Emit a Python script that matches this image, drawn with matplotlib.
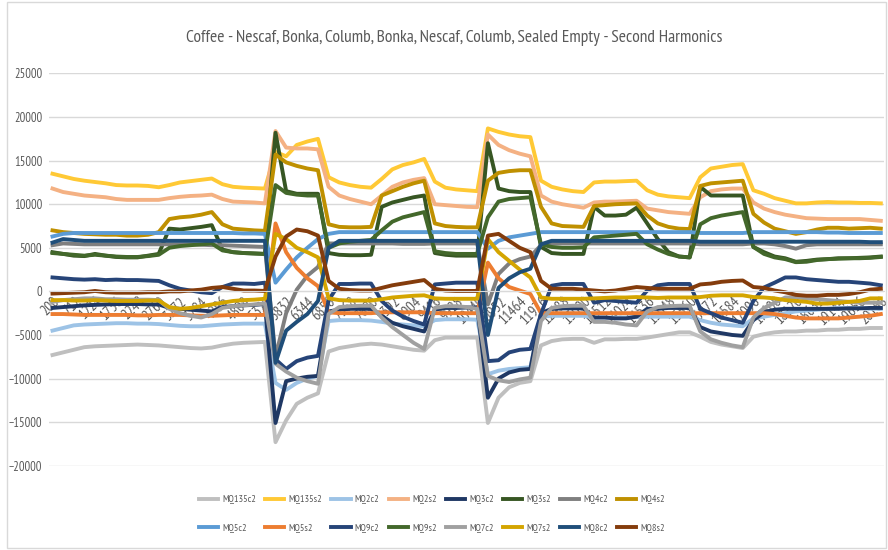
import matplotlib
matplotlib.use("Agg")
import matplotlib.pyplot as plt
from matplotlib.patches import Rectangle

plt.rcParams['font.family'] = ['PT Sans Narrow', 'DejaVu Sans']

categorias = [200, 456, 712, 968, 1224, 1480, 1736, 1992, 2248, 2504, 2760, 3016, 3272, 3528,
              3784, 4040, 4296, 4552, 4808, 5064, 5320, 5576, 5832, 6088, 6344, 6600, 6856,
              7112, 7368, 7624, 7880, 8136, 8392, 8648, 8904, 9160, 9416, 9672, 9928, 10184,
              10440, 10696, 10952, 11208, 11464, 11720, 11976, 12232, 12488, 12744, 13000,
              13256, 13512, 13768, 14024, 14280, 14536, 14792, 15048, 15304, 15560, 15816,
              16072, 16328, 16584, 16840, 17096, 17352, 17608, 17864, 18120, 18376, 18632,
              18888, 19144, 19400, 19656, 19912, 20168]

MQ135c2 = [-7300, -7000, -6700, -6400, -6300, -6250, -6200, -6150, -6100, -6150, -6200,
           -6300, -6400, -6500, -6550, -6450,
           -6200, -6000, -5900, -5850, -5800,
           -17300, -14800, -12900, -12200, -11700,
           -6900, -6500, -6300, -6100, -6000,
           -6100, -6300, -6500, -6700, -6800,
           -5600, -5300, -5300, -5300, -5300,
           -15100, -12200, -11000, -10500, -10300,
           -6200, -5700, -5500, -5450, -5450,
           -5900, -5500, -5500, -5450, -5450,
           -5300, -5100, -4900, -4700, -4700,
           -5200, -5800, -6100, -6300, -6500,
           -5200, -4900, -4700, -4600, -4600, -4500, -4500, -4400, -4400, -4300, -4300, -4200, -4200]
MQ135s2 = [13500, 13200, 12900, 12700, 12550, 12400, 12200, 12150, 12150, 12100, 11950,
           12200, 12500, 12650, 12800, 12950,
           12300, 12000, 11900, 11850, 11800,
           16000, 15500, 16800, 17200, 17500,
           13100, 12500, 12200, 12000, 11900,
           12900, 14000, 14500, 14800, 15200,
           12600, 11900, 11700, 11600, 11500,
           18700, 18300, 18000, 17800, 17700,
           12700, 12000, 11700, 11500, 11400,
           12500, 12600, 12600, 12650, 12700,
           11600, 11100, 10900, 10800, 10700,
           13100, 14100, 14300, 14500, 14600,
           11600, 11200, 10700, 10400, 10100, 10100, 10200, 10250, 10200, 10200, 10150, 10150, 10100]
MQ2c2 = [-4500, -4200, -3900, -3800, -3750, -3700, -3650, -3650, -3700, -3700, -3750,
         -3850, -3950, -4000, -4000, -3900,
         -3800, -3750, -3700, -3700, -3700,
         -10500, -11300, -10500, -10000, -9700,
         -3400, -3300, -3300, -3300, -3350,
         -3500, -3700, -3800, -3900, -4000,
         -3300, -3200, -3200, -3200, -3250,
         -9500, -9100, -8900, -8800, -8700,
         -2900, -2800, -2800, -2800, -2800,
         -3000, -3000, -3000, -3000, -2950,
         -2900, -2900, -2900, -2900, -2900,
         -3300, -3600, -3800, -3900, -4000,
         -3100, -2900, -2700, -2500, -2300, -2200, -2100, -2000, -1900, -1900, -1900, -2000, -2000]
MQ2s2 = [11800, 11400, 11200, 11000, 10900, 10800, 10600, 10500, 10500, 10500, 10500,
         10700, 10850, 10950, 11000, 11100,
         10600, 10300, 10250, 10200, 10100,
         18400, 16500, 16400, 16400, 16300,
         12000, 11000, 10600, 10300, 10000,
         11000, 12000, 12500, 12800, 13000,
         10000, 9900, 9800, 9700, 9660,
         18000, 16800, 16200, 15800, 15500,
         11000, 10300, 10000, 9800, 9600,
         10200, 10300, 10300, 10350, 10400,
         9500, 9300, 9100, 9000, 8900,
         10800, 11500, 11700, 11800, 11800,
         10200, 9500, 9100, 8800, 8600, 8400, 8350, 8300, 8300, 8300, 8300, 8200, 8100]
MQ3c2 = [-1900, -1800, -1700, -1600, -1550, -1500, -1450, -1450, -1450, -1500, -1500,
         -1900, -2000, -2100, -2200, -2300,
         -1800, -1700, -1600, -1550, -1450,
         -15100, -10300, -10000, -9800, -9700,
         -2300, -2100, -2000, -2000, -2000,
         -2800, -3600, -4000, -4300, -4600,
         -2100, -1900, -1900, -1850, -1850,
         -12200, -10000, -9300, -9000, -8900,
         -2500, -2000, -1950, -1950, -1950,
         -3000, -3000, -3100, -3100, -2900,
         -2000, -2000, -1900, -1900, -1900,
         -4100, -4600, -4800, -5000, -5100,
         -3300, -2400, -2100, -2000, -2000, -2000, -2000, -2000, -2000, -1950, -1950, -1900, -1900]
MQ3s2 = [4500, 4300, 4100, 4050, 4300, 4100, 3950, 3900, 3900, 4100, 4300,
         7200, 7100, 7250, 7400, 7600,
         4800, 4500, 4400, 4350, 4300,
         18200, 11500, 11200, 11200, 11200,
         4400, 4200, 4150, 4150, 4200,
         9700, 10200, 10500, 10800, 11000,
         4400, 4200, 4100, 4100, 4100,
         17000, 11800, 11500, 11400, 11400,
         5100, 4400, 4300, 4300, 4300,
         9700, 8700, 8700, 8800, 9600,
         7800, 6000, 4500, 4000, 3900,
         12000, 11000, 11000, 11000, 11000,
         5100, 4500, 4000, 3800, 3400, 3500, 3650, 3700, 3800, 3800, 3850, 3900, 4000]
MQ4c2 = [5300, 5500, 5450, 5400, 5400, 5400, 5400, 5400, 5400, 5400, 5400,
         5400, 5400, 5400, 5350, 5300,
         5300, 5250, 5200, 5150, 5100,
         -7500, -2500, 200, 1800, 2800,
         5500, 5500, 5500, 5500, 5500,
         5500, 5500, 5450, 5450, 5450,
         5500, 5500, 5500, 5500, 5500,
         -1500, 2000, 3200, 3700, 4000,
         5300, 5500, 5500, 5500, 5500,
         5500, 5500, 5500, 5500, 5500,
         5500, 5500, 5500, 5500, 5500,
         5400, 5400, 5400, 5400, 5400,
         5500, 5500, 5400, 5200, 4900, 5300, 5400, 5400, 5400, 5400, 5400, 5400, 5400]
MQ4s2 = [7000, 6800, 6700, 6600, 6550, 6500, 6500, 6400, 6400, 6500, 6800,
         8300, 8500, 8600, 8800, 9100,
         7700, 7200, 7100, 7000, 6950,
         15700, 14800, 14400, 14100, 13900,
         7700, 7400, 7350, 7350, 7400,
         11000, 11500, 12000, 12400, 12700,
         7800, 7500, 7400, 7350, 7350,
         12700, 13600, 13800, 13900, 13900,
         9700, 7800, 7500, 7450, 7400,
         9800, 9900, 10000, 10050, 10100,
         8700, 7800, 7400, 7200, 7150,
         12100, 12400, 12500, 12600, 12700,
         8900, 7900, 7200, 6900, 6600, 6800, 7100, 7300, 7300, 7200, 7250, 7300, 7200]
MQ5c2 = [6300, 6600, 6700, 6700, 6700, 6700, 6700, 6700, 6700, 6700, 6700,
         6700, 6700, 6700, 6700, 6700,
         6700, 6700, 6650, 6650, 6600,
         1000, 2500, 3900, 5000, 6000,
         6600, 6800, 6800, 6800, 6800,
         6800, 6800, 6800, 6800, 6800,
         6800, 6800, 6800, 6800, 6800,
         4900, 5800, 6200, 6400, 6600,
         6800, 6800, 6800, 6800, 6800,
         6800, 6800, 6800, 6800, 6800,
         6800, 6800, 6800, 6800, 6800,
         6700, 6700, 6700, 6700, 6700,
         6800, 6800, 6800, 6800, 6800, 6800, 6800, 6750, 6750, 6700, 6700, 6700, 6700]
MQ5s2 = [-2600, -2600, -2650, -2700, -2700, -2700, -2700, -2700, -2750, -2750, -2700,
         -2700, -2700, -2750, -2800, -2800,
         -2750, -2700, -2700, -2700, -2700,
         7800, 4500, 2700, 1500, 600,
         -2400, -2500, -2500, -2500, -2500,
         -2400, -2400, -2400, -2400, -2400,
         -2500, -2500, -2500, -2500, -2500,
         3300, 1500, 500, 100, -300,
         -2500, -2500, -2500, -2500, -2500,
         -2500, -2500, -2500, -2500, -2500,
         -2500, -2500, -2500, -2500, -2500,
         -2500, -2500, -2500, -2500, -2500,
         -2500, -2500, -2600, -2800, -3000, -3100, -3100, -3100, -3100, -3000, -2900, -2800, -2600]
MQ9c2 = [1600, 1500, 1400, 1350, 1400, 1300, 1350, 1300, 1300, 1250, 1200,
         700, 300, 100, -100, -200,
         500, 900, 900, 850, 1000,
         -7800, -8900, -8000, -7600, -7400,
         -1000, 850, 850, 900, 900,
         -1100, -2200, -2900, -3400, -3800,
         800, 900, 1000, 1000, 1000,
         -8000, -7900, -7000, -6700, -6600,
         -2600, 650, 850, 850, 850,
         -1300, -1000, -1100, -1200, -1300,
         100, 700, 850, 850, 850,
         -2000, -2500, -3000, -3300, -3600,
         -1100, 450, 1000, 1600, 1600, 1400, 1300, 1200, 1100, 1100, 1000, 900, 700]
MQ9s2 = [4400, 4300, 4200, 4100, 4200, 4100, 4000, 3950, 3950, 4050, 4200,
         5000, 5200, 5300, 5400, 5500,
         4700, 4500, 4400, 4350, 4300,
         12200, 11300, 11100, 11000, 11000,
         5000, 5500, 5700, 5800, 5900,
         7000, 8000, 8500, 8800, 9100,
         4600, 4400, 4300, 4300, 4300,
         8500, 10300, 10600, 10700, 10800,
         5400, 5100, 5000, 5000, 5050,
         6200, 6300, 6400, 6500, 6600,
         5400, 4800, 4300, 4000, 3900,
         7700, 8400, 8700, 8900, 9100,
         5100, 4300, 3900, 3700, 3350, 3400, 3600, 3700, 3750, 3800, 3800, 3850, 3950]
MQ7c2 = [-1200, -1000, -900, -800, -800, -900, -900, -950, -950, -950, -1000,
         -2000, -2500, -2800, -3000, -2600,
         -1900, -1700, -1600, -1500, -1400,
         -8300, -9200, -9900, -10300, -10600,
         -2600, -1800, -1700, -1650, -1650,
         -3000, -4100, -5000, -5900, -6600,
         -1900, -1700, -1700, -1800, -2000,
         -9700, -10200, -10400, -10100, -9900,
         -3400, -1900, -1700, -1650, -1650,
         -3500, -3500, -3600, -3800, -3900,
         -2300, -1800, -1700, -1650, -1650,
         -4600, -5500, -5900, -6200, -6400,
         -3000, -1900, -1300, -700, -700, -800, -900, -1000, -1100, -1200, -1300, -1300, -1300]
MQ7s2 = [-1000, -1000, -1050, -1050, -1000, -1050, -1100, -1100, -1100, -1050, -1050,
         -1800, -2000, -1900, -1700, -1500,
         -1300, -1100, -1000, -950, -850,
         6600, 6000, 5000, 4500, 3900,
         -800, -1000, -1050, -1050, -1050,
         -900, -700, -600, -500, -450,
         -800, -850, -850, -850, -850,
         6000, 4500, 3500, 2500, 1600,
         -700, -850, -850, -850, -850,
         -800, -750, -700, -700, -650,
         -700, -750, -700, -700, -700,
         -650, -500, -450, -450, -450,
         -650, -700, -800, -1000, -1100, -1200, -1400, -1400, -1300, -1200, -1100, -800, -800]
MQ8c2 = [5600, 6000, 5900, 5800, 5800, 5800, 5800, 5800, 5800, 5800, 5800,
         5800, 5800, 5800, 5800, 5800,
         5800, 5800, 5800, 5800, 5800,
         -8200, -4500, -3500, -2600, -1100,
         5000, 5800, 5800, 5800, 5800,
         5800, 5800, 5800, 5800, 5800,
         5800, 5800, 5800, 5800, 5800,
         -5000, 400, 1500, 2200, 2600,
         5400, 5800, 5800, 5800, 5800,
         5800, 5800, 5800, 5800, 5800,
         5800, 5800, 5800, 5800, 5800,
         5700, 5700, 5700, 5700, 5700,
         5700, 5700, 5700, 5700, 5700, 5700, 5700, 5700, 5700, 5700, 5700, 5650, 5650]
MQ8s2 = [-250, -200, -150, -100, 50, -100, -150, -150, -150, -100, -100,
         0, 0, 100, 200, 400,
         500, 300, 100, 100, 50,
         4000, 6300, 7100, 6900, 6400,
         1200, 300, 150, 100, 100,
         400, 700, 900, 1100, 1300,
         300, 100, 50, 50, 50,
         6400, 6600, 5800, 5000, 4500,
         1200, 300, 300, 300, 200,
         100, 0, 100, 300, 500,
         400, 300, 300, 300, 300,
         800, 900, 1100, 1200, 1250,
         500, 400, 100, -100, -400, -500, -500, -400, -400, -300, -100, 200, 300]

series = [('MQ135c2', MQ135c2, '#BFBFBF'), ('MQ135s2', MQ135s2, '#FFC935'),
          ('MQ2c2', MQ2c2, '#9DC3E6'), ('MQ2s2', MQ2s2, '#F4B183'),
          ('MQ3c2', MQ3c2, '#1F3864'), ('MQ3s2', MQ3s2, '#375623'),
          ('MQ4c2', MQ4c2, '#7F7F7F'), ('MQ4s2', MQ4s2, '#BF9000'),
          ('MQ5c2', MQ5c2, '#5B9BD5'), ('MQ5s2', MQ5s2, '#ED7D31'),
          ('MQ9c2', MQ9c2, '#264478'), ('MQ9s2', MQ9s2, '#43682B'),
          ('MQ7c2', MQ7c2, '#A0A0A0'), ('MQ7s2', MQ7s2, '#D4A500'),
          ('MQ8c2', MQ8c2, '#1F4E79'), ('MQ8s2', MQ8s2, '#843C0C')]

gris = '#595959'
fig = plt.figure(figsize=(8.88, 5.5), dpi=100)
ax = fig.add_axes([49/888, 1 - 465.7/550, 835/888, (465.7 - 73.5)/550])

x = list(range(len(categorias)))
lineas = []
for nombre, datos, color in series:
    l, = ax.plot(x, datos, color=color, lw=2.8, label=nombre, solid_joinstyle='round')
    lineas.append(l)

ax.set_ylim(-20000, 25000)
ax.set_xlim(-0.33, 78.3)
ax.set_yticks(range(-20000, 25001, 5000))
ax.grid(axis='y', color='#D9D9D9', lw=1)
ax.set_axisbelow(True)
for s in ['top', 'right', 'left']:
    ax.spines[s].set_visible(False)
ax.spines['bottom'].set_position(('data', 0))
ax.spines['bottom'].set_color('#D9D9D9')
ax.tick_params(axis='y', length=0, pad=5, labelsize=9, labelcolor=gris)
ax.tick_params(axis='x', length=0, pad=2, labelsize=10.5, labelcolor=gris)

pos = x[::2]
ax.set_xticks(pos)
ax.set_xticklabels([str(c) for c in categorias[::2]], rotation=45, ha='right',
                   va='top', rotation_mode='anchor')

fig.text(454/888, 1 - 38/550,
         'Coffee - Nescaf, Bonka, Columb, Bonka, Nescaf, Columb, Sealed Empty - Second Harmonics',
         ha='center', va='center', fontsize=12.6, color=gris)

# matplotlib llena por columnas: reordenar para que quede por filas
orden = []
for i in range(8):
    orden += [i, i + 8]
leg = fig.legend([lineas[i] for i in orden], [series[i][0] for i in orden],
                 loc='center', bbox_to_anchor=(432/888, 1 - 514/550), ncol=8,
                 frameon=False, fontsize=7.3, handlelength=1.9, handletextpad=0.4,
                 columnspacing=0.9, labelspacing=1.9)
for t in leg.get_texts():
    t.set_color(gris)

fig.patches.append(Rectangle((7/888, 2/550), 879/888, 546/550, transform=fig.transFigure,
                             fill=False, ec='#D9D9D9', lw=1))

fig.savefig('out.png', dpi=100)
